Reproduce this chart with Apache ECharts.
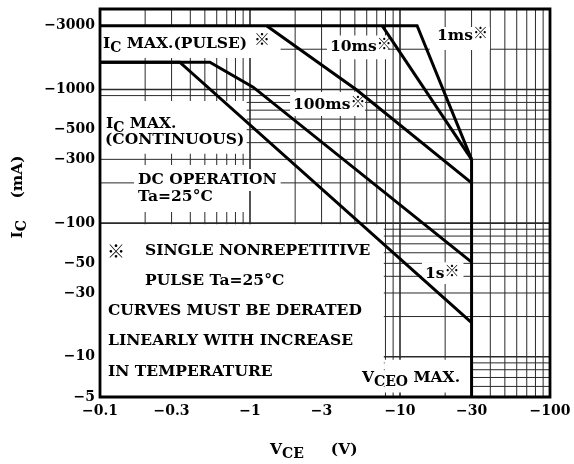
<!DOCTYPE html>
<html><head><meta charset="utf-8">
<script src="https://cdn.jsdelivr.net/npm/echarts@6/dist/echarts.min.js"></script>
<style>html,body{margin:0;padding:0;background:#fff}#c{width:574px;height:464px}</style>
</head><body><div id="c"></div>
<script>
// ---------- data ----------
const xTickValues = [0.1, 0.3, 1, 3, 10, 30, 100];
const yTickValues = [5, 10, 30, 50, 100, 300, 500, 1000, 3000];
const xGridValues = [0.2,0.3,0.4,0.5,0.6,0.7,0.8,0.9,1,2,3,4,5,6,7,8,9,10,20,30,40,50,60,70,80,90];
const yGridValues = [6,7,8,9,10,20,30,40,50,60,70,80,90,100,200,300,400,500,600,700,800,900,1000,2000];
const majorGrid = [1, 10, 100, 1000];
const pulse1ms   = [[0.1,3000],[13,3000],[30,300]];
const pulse10ms  = [[7.6,3000],[30,300]];
const pulse100ms = [[1.29,3000],[5.1,1000],[30,200]];
const pulse1s    = [[0.1,1600],[0.54,1600],[1.05,1040],[30,51]];
const dcOperation= [[0.1,1600],[0.34,1600],[30,18]];
const vceoMax    = [[30,300],[30,5]];
const grid200Seg = [[0.1,200],[0.95,200]];
// white label backdrops: [V from, V to, mA from, mA to]
const maskAreas = [
  [0.1, 1.6, 1720, 2930],
  [0.1, 0.95, 330, 820],
  [0.1, 0.95, 121, 272],
  [0.1, 7.8, 5, 98],
  [7.9, 30, 5.4, 9.5],
  [3.26, 8.3, 1680, 2530],
  [15.8, 39.8, 1975, 2930],
  [1.85, 5.84, 633, 957],
  [14, 26.5, 35, 51]
];
const X_MIN = 0.1, X_MAX = 100, Y_MIN = 5, Y_MAX = 4000;

// ---------- chart ----------
const F = 'DejaVu Serif';
const FS = 15.5;
const chart = echarts.init(document.getElementById('c'), null, {renderer: 'canvas'});
const minus = v => '\u2212' + v;

const rich = {
  s: {fontFamily: F, fontSize: 14, fontWeight: 'bold', fill: '#000', padding: [9, 0, 0, 0]},
  k: {fontFamily: 'Noto Sans CJK JP', fontSize: 15, fontWeight: 'bold', fill: '#000', padding: [0, 0, 8, 0]}
};
function txt(x, y, text, extra) {
  return Object.assign({
    type: 'text', x: x, y: y, z: 100, silent: true,
    style: Object.assign({
      text: text, rich: rich, fontFamily: F, fontSize: FS, fontWeight: 'bold',
      fill: '#000', align: 'left', verticalAlign: 'middle'
    }, (extra && extra.style) || {})
  }, extra && extra.el || {});
}

function curve(data) {
  return {type: 'line', data: data, z: 3, silent: true, showSymbol: false, symbol: 'none',
    lineStyle: {color: '#000', width: 3, join: 'miter'}, animation: false};
}

const option = {
  animation: false,
  backgroundColor: '#fff',
  grid: {left: 100, top: 9, width: 450, height: 388},
  xAxis: {
    type: 'log', logBase: 10, min: X_MIN, max: X_MAX,
    axisLine: {show: false}, axisTick: {show: false}, splitLine: {show: false},
    axisLabel: {customValues: xTickValues, formatter: minus, margin: 7,
      fontFamily: F, fontSize: 14, fontWeight: 'bold', color: '#000'}
  },
  yAxis: {
    type: 'log', logBase: 10, min: Y_MIN, max: Y_MAX,
    axisLine: {show: false}, axisTick: {show: false}, splitLine: {show: false},
    axisLabel: {customValues: yTickValues, formatter: minus, margin: 5,
      fontFamily: F, fontSize: 14, fontWeight: 'bold', color: '#000'}
  },
  series: [
    {type: 'custom', z: 1, silent: true, data: xGridValues.map(v => [v, Y_MIN]), encode: {x: 0, y: 1},
      renderItem: (p, api) => {
        const v = api.value(0), a = api.coord([v, Y_MIN]), b = api.coord([v, Y_MAX]);
        return {type: 'line', shape: {x1: a[0], y1: a[1], x2: b[0], y2: b[1]},
          style: {stroke: '#2a2a2a', lineWidth: majorGrid.includes(v) ? 1.6 : 1}};
      }},
    {type: 'custom', z: 1, silent: true, data: yGridValues.map(v => [X_MIN, v]), encode: {x: 0, y: 1},
      renderItem: (p, api) => {
        const v = api.value(1), a = api.coord([X_MIN, v]), b = api.coord([X_MAX, v]);
        return {type: 'line', shape: {x1: a[0], y1: a[1], x2: b[0], y2: b[1]},
          style: {stroke: '#2a2a2a', lineWidth: majorGrid.includes(v) ? 1.6 : 1}};
      }},
    {type: 'custom', z: 2, silent: true, data: maskAreas, encode: {x: [0, 1], y: [2, 3]},
      renderItem: (p, api) => {
        const a = api.coord([api.value(0), api.value(3)]), b = api.coord([api.value(1), api.value(2)]);
        return {type: 'rect', shape: {x: a[0], y: a[1], width: b[0] - a[0], height: b[1] - a[1]},
          style: {fill: '#fff'}};
      }},
    {type: 'line', data: grid200Seg, z: 3, silent: true, symbol: 'none',
      lineStyle: {color: '#2a2a2a', width: 1}},
    curve(pulse1ms), curve(pulse10ms), curve(pulse100ms), curve(pulse1s),
    curve(dcOperation), curve(vceoMax)
  ],
  graphic: [
    {type: 'rect', z: 90, silent: true, shape: {x: 100, y: 9, width: 450, height: 388},
      style: {fill: 'none', stroke: '#000', lineWidth: 2.8}},
    txt(103, 44, 'I{s|C} MAX.(PULSE)'),
    txt(254, 39, '\u203B', {style: {fontFamily: 'Noto Sans CJK JP', fontSize: 16, fontWeight: 'bold'}}),
    txt(106, 124, 'I{s|C} MAX.'),
    txt(105, 140, '(CONTINUOUS)'),
    txt(134, 180, 'DC OPERATION', {style: {backgroundColor: '#fff', padding: [3, 4, 3, 4]}}),
    txt(138, 197, 'Ta=25\u00B0C'),
    txt(107, 251, '\u203B', {style: {fontFamily: 'Noto Sans CJK JP', fontSize: 18, fontWeight: 'bold'}}),
    txt(145, 251, 'SINGLE NONREPETITIVE'),
    txt(145, 281, 'PULSE Ta=25\u00B0C'),
    txt(108, 311, 'CURVES MUST BE DERATED'),
    txt(108, 341, 'LINEARLY WITH INCREASE'),
    txt(108, 372, 'IN TEMPERATURE'),
    txt(362, 378, 'V{s|CEO} MAX.'),
    txt(330, 47, '10ms{k|\u203B}'),
    txt(437, 36, '1ms{k|\u203B}'),
    txt(293, 105, '100ms{k|\u203B}'),
    txt(425, 274, '1s{k|\u203B}'),
    txt(270, 450, 'V{s|CE}     (V)'),
    txt(18, 197, 'I{s|C}    (mA)', {el: {rotation: Math.PI / 2}, style: {align: 'center'}})
  ]
};
chart.setOption(option);
</script>
</body></html>
